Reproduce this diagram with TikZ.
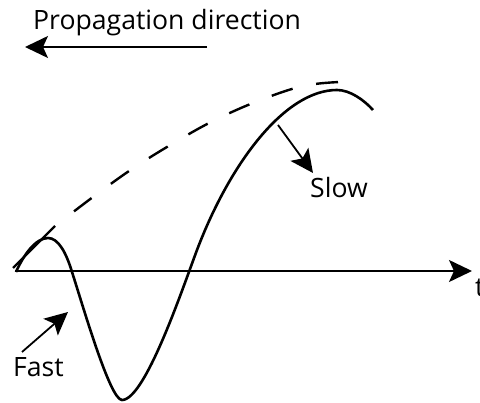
\documentclass[tikz,border=0pt]{standalone}
\usepackage{fontspec}
\setmainfont{Open Sans}
\usetikzlibrary{arrows.meta}
\begin{document}
\begin{tikzpicture}[x=1pt,y=-1pt,
  lbl/.style={anchor=base west,inner sep=0pt,font=\fontsize{26.6}{31}\selectfont},
  arr/.style={line width=1.8pt,-{Stealth[length=23pt,width=22pt,inset=5pt]}},
  wave/.style={line width=2.6pt},
  env/.style={line width=2.4pt}]
\useasboundingbox (0,0) rectangle (480,403);
% labels
\node[lbl] (prop) at (33,30) {Propagation direction};
\node[lbl] (slow) at (310,198) {Slow};
\node[lbl] (fast) at (13,377) {Fast};
\node[lbl] (t) at (475,297) {t};
% propagation arrow
\coordinate (pa) at (207,47);
\coordinate (pb) at (25,47);
\draw[arr] (pa) -- (pb);
% axis
\coordinate (o) at (15,271);
\coordinate (tx) at (472,271);
\draw[arr] (o) -- (tx);
% envelope
\coordinate (e0) at (13,268);
\coordinate (e1) at (55,226);
\draw[env] (e0) -- (e1);
\draw[env,dash pattern=on 22pt off 24pt,dash phase=22pt]
  plot[smooth,tension=0.6] coordinates {(55,226) (93,197) (132,169) (172,144) (213,121) (258,101) (303,86) (340,82)};
% wave
\coordinate (w0) at (16,272);
\coordinate (w1) at (48,238);
\coordinate (w2) at (72,272);
\coordinate (w3) at (122,400);
\coordinate (w4) at (197,250);
\coordinate (w5) at (337,90);
\coordinate (w6) at (373,110);
\draw[wave] (w0) .. controls (24,254) and (36,238) .. (w1)
  .. controls (58,238) and (66,252) .. (w2)
  .. controls (83,306) and (110,400) .. (w3)
  .. controls (145,400) and (182,290) .. (w4)
  .. controls (230,163) and (285,90) .. (w5)
  .. controls (350,90) and (364,100) .. (w6);
% slow / fast arrows
\coordinate (sa) at (278,125);
\coordinate (sb) at (313,173);
\draw[arr] (sa) -- (sb);
\coordinate (fa) at (22,352);
\coordinate (fb) at (68,312);
\draw[arr] (fa) -- (fb);
\end{tikzpicture}
\end{document}
